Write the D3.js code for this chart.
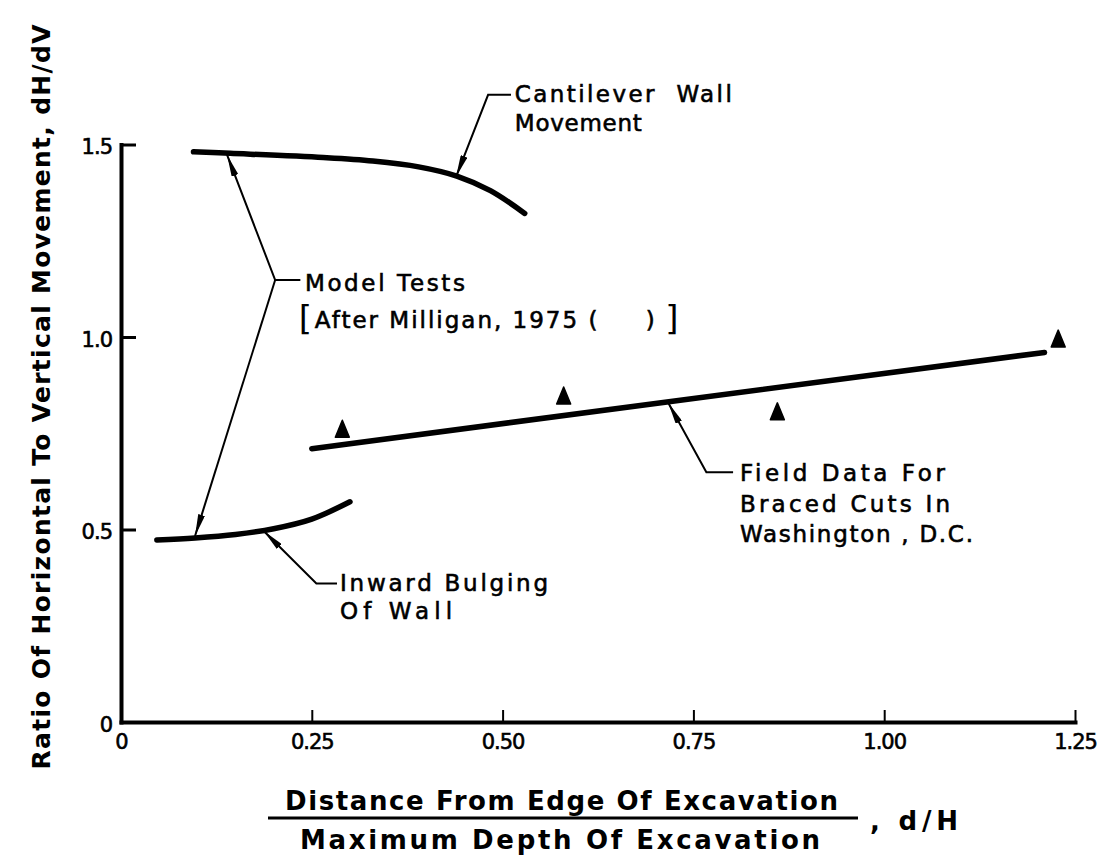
<!DOCTYPE html>
<html>
<head>
<meta charset="utf-8">
<script src="https://cdn.jsdelivr.net/npm/d3@7"></script>
<style>
  body { margin: 0; background: #fff; }
  text { font-family: "DejaVu Sans", sans-serif; fill: #000; }
</style>
</head>
<body>
<div id="chart"></div>
<script>
// tick values and labels
var xTickValues = [0, 0.25, 0.5, 0.75, 1.0, 1.25];
var xTickLabels = ["0", "0.25", "0.50", "0.75", "1.00", "1.25"];
var yTickValues = [0, 0.5, 1.0, 1.5];
var yTickLabels = ["0", "0.5", "1.0", "1.5"];

// model tests (Milligan, 1975) - cantilever wall movement
var cantileverX = [0.095, 0.143, 0.265, 0.330, 0.390, 0.440, 0.484, 0.529];
var cantileverY = [1.481, 1.477, 1.466, 1.457, 1.442, 1.418, 1.380, 1.321];

// model tests - inward bulging of wall
var bulgingX = [0.047, 0.097, 0.150, 0.200, 0.250, 0.300];
var bulgingY = [0.473, 0.478, 0.487, 0.502, 0.527, 0.572];

// field data, braced cuts in Washington D.C.
var fieldPointsX = [0.29, 0.58, 0.86, 1.228];
var fieldPointsY = [0.758, 0.844, 0.803, 0.992];
var fieldFitX = [0.25, 1.21];
var fieldFitY = [0.71, 0.96];

var width = 1110, height = 859;

var svg = d3.select("#chart")
    .append("svg")
    .attr("width", width)
    .attr("height", height);

svg.append("rect").attr("width", width).attr("height", height).attr("fill", "#fff");

var x = d3.scaleLinear().domain([0, 1.25]).range([121, 1075]);
var y = d3.scaleLinear().domain([0, 1.5]).range([722, 144.5]);

// arrowhead
svg.append("defs").append("marker")
    .attr("id", "arrow")
    .attr("viewBox", "0 -3.5 22 7")
    .attr("refX", 22)
    .attr("refY", 0)
    .attr("markerUnits", "userSpaceOnUse")
    .attr("markerWidth", 22)
    .attr("markerHeight", 7)
    .attr("orient", "auto")
    .append("path")
    .attr("d", "M0,-3.5L22,0L0,3.5Z")
    .attr("fill", "#000");

// axes
var yAxis = d3.axisLeft(y)
    .tickValues(yTickValues)
    .tickFormat(function (d, i) { return yTickLabels[i]; })
    .tickSizeInner(-15)
    .tickSizeOuter(0)
    .tickPadding(9);
var xAxis = d3.axisBottom(x)
    .tickValues(xTickValues)
    .tickFormat(function (d, i) { return xTickLabels[i]; })
    .tickSizeInner(-12)
    .tickSizeOuter(0)
    .tickPadding(12);

var gy = svg.append("g")
    .attr("transform", "translate(" + x(0) + ",0)")
    .call(yAxis);
var gx = svg.append("g")
    .attr("transform", "translate(0," + y(0) + ")")
    .call(xAxis);

[gx, gy].forEach(function (g) {
    g.attr("font-family", null);
    g.select(".domain").attr("stroke-width", 4).attr("stroke-linecap", "square");
    g.selectAll(".tick text")
        .attr("font-size", 21)
        .attr("fill", "#000")
        .attr("stroke", "#000")
        .attr("stroke-width", 0.6)
        .attr("letter-spacing", -1);
});
gy.selectAll(".tick line").attr("stroke-width", 3);
gx.selectAll(".tick line").attr("stroke-width", 2);
gy.selectAll(".tick text").attr("dy", "0.45em");

// curves
var line = d3.line()
    .x(function (d) { return x(d[0]); })
    .y(function (d) { return y(d[1]); })
    .curve(d3.curveCatmullRom);

function zip(a, b) { return a.map(function (v, i) { return [v, b[i]]; }); }

[zip(cantileverX, cantileverY), zip(bulgingX, bulgingY), zip(fieldFitX, fieldFitY)].forEach(function (data) {
    svg.append("path")
        .datum(data)
        .attr("d", line)
        .attr("fill", "none")
        .attr("stroke", "#000")
        .attr("stroke-width", 5.5)
        .attr("stroke-linecap", "round");
});

// field data triangles
svg.selectAll(".tri")
    .data(zip(fieldPointsX, fieldPointsY))
    .enter()
    .append("path")
    .attr("class", "tri")
    .attr("transform", function (d) { return "translate(" + x(d[0]) + "," + y(d[1]) + ")"; })
    .attr("d", "M0,-10L7,7L-7,7Z")
    .attr("fill", "#000")
    .attr("stroke", "#000")
    .attr("stroke-width", 1.5)
    .attr("stroke-linejoin", "round");

// annotation leaders (data coordinates)
var leaders = [
    [[0.511, 1.629], [0.481, 1.629], [0.439, 1.416]],
    [[0.235, 1.148], [0.202, 1.148], [0.139, 1.473]],
    [[0.202, 1.148], [0.097, 0.483]],
    [[0.283, 0.360], [0.256, 0.360], [0.187, 0.496]],
    [[0.802, 0.649], [0.767, 0.649], [0.717, 0.829]]
];
var leaderLine = d3.line()
    .x(function (d) { return x(d[0]); })
    .y(function (d) { return y(d[1]); });
leaders.forEach(function (l) {
    svg.append("path")
        .attr("d", leaderLine(l))
        .attr("fill", "none")
        .attr("stroke", "#000")
        .attr("stroke-width", 2)
        .attr("marker-end", "url(#arrow)");
});

// annotation text: [text, x, y, width]
var labels = [
    ["Cantilever  Wall", 0.516, 1.610, 217],
    ["Movement", 0.516, 1.535, 127],
    ["Model Tests", 0.241, 1.119, 160],
    ["After Milligan, 1975 (     )", 0.254, 1.023, 340],
    ["Inward Bulging", 0.287, 0.340, 208],
    ["Of Wall", 0.287, 0.268, 112],
    ["Field Data For", 0.811, 0.626, 205],
    ["Braced Cuts In", 0.811, 0.545, 210],
    ["Washington , D.C.", 0.811, 0.468, 233]
];
svg.selectAll(".ann")
    .data(labels)
    .enter()
    .append("text")
    .attr("class", "ann")
    .attr("x", function (d) { return x(d[1]); })
    .attr("y", function (d) { return y(d[2]); })
    .attr("font-size", 23)
    .attr("stroke", "#000")
    .attr("stroke-width", 0.6)
    .attr("textLength", function (d) { return d[3]; })
    .attr("lengthAdjust", "spacing")
    .style("white-space", "pre")
    .text(function (d) { return d[0]; });

// brackets around the reference
svg.append("text")
    .attr("x", x(0.233)).attr("y", y(1.017))
    .attr("font-size", 34)
    .text("[");
svg.append("text")
    .attr("x", x(0.713)).attr("y", y(1.017))
    .attr("font-size", 34)
    .text("]");

// y axis title
svg.append("text")
    .attr("transform", "translate(50,397) rotate(-90)")
    .attr("text-anchor", "middle")
    .attr("font-size", 25)
    .attr("font-weight", "bold")
    .attr("textLength", 745)
    .attr("lengthAdjust", "spacing")
    .text("Ratio Of Horizontal To Vertical Movement, dH/dV");

// x axis title as a fraction
svg.append("text")
    .attr("x", 285).attr("y", 810)
    .attr("font-size", 26)
    .attr("font-weight", "bold")
    .attr("textLength", 553)
    .attr("lengthAdjust", "spacing")
    .text("Distance From Edge Of Excavation");
svg.append("line")
    .attr("x1", 268).attr("x2", 858)
    .attr("y1", 818).attr("y2", 818)
    .attr("stroke", "#000").attr("stroke-width", 3);
svg.append("text")
    .attr("x", 300).attr("y", 849)
    .attr("font-size", 26)
    .attr("font-weight", "bold")
    .attr("textLength", 520)
    .attr("lengthAdjust", "spacing")
    .text("Maximum Depth Of Excavation");
svg.append("text")
    .attr("x", 870).attr("y", 830)
    .attr("font-size", 26)
    .attr("font-weight", "bold")
    .attr("textLength", 88)
    .attr("lengthAdjust", "spacing")
    .text(", d/H");
</script>
</body>
</html>
